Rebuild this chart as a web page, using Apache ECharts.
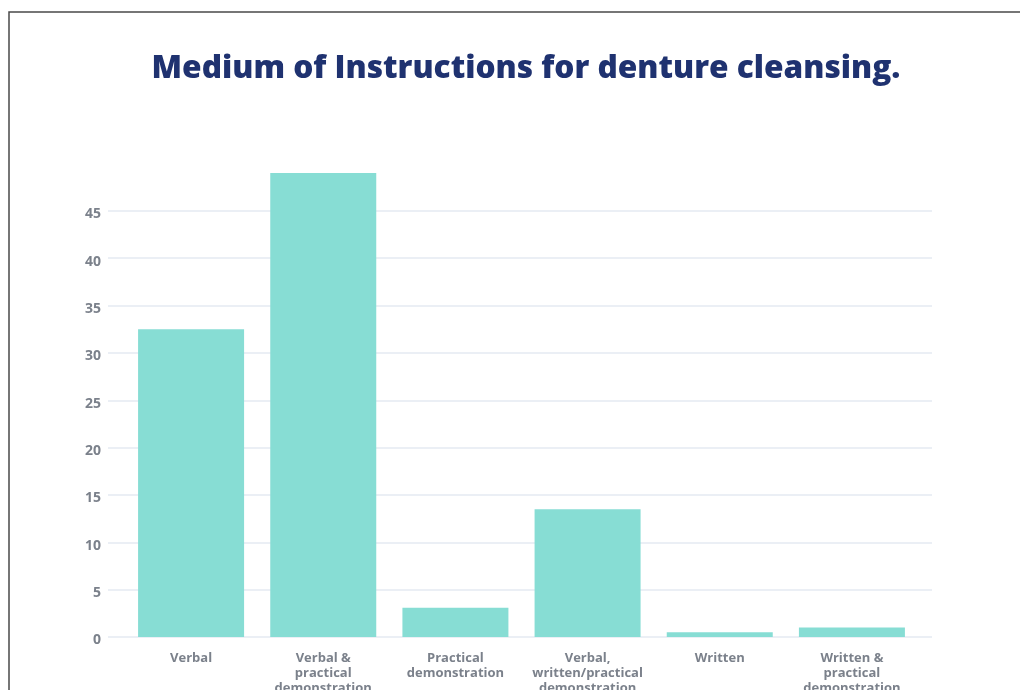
<!DOCTYPE html>
<html>
<head>
<meta charset="utf-8">
<script src="https://cdn.jsdelivr.net/npm/echarts@6/dist/echarts.min.js"></script>
<style>
html,body{margin:0;padding:0;background:#fff;}
#c{width:1020px;height:690px;}
</style>
</head>
<body>
<div id="c"></div>
<script>
const categories = ["Verbal", "Verbal &\npractical\ndemonstration", "Practical\ndemonstration", "Verbal,\nwritten/practical\ndemonstration", "Written", "Written &\npractical\ndemonstration"];
const values = [32.5, 49.0, 3.1, 13.5, 0.5, 1.0];
const yMin = 0, yMax = 49, yInterval = 5;

const chart = echarts.init(document.getElementById('c'), null, {renderer: 'canvas'});
const labelFont = {color: '#7b818b', fontFamily: 'Open Sans', fontWeight: 'bold', fontSize: 13};
chart.setOption({
  backgroundColor: '#ffffff',
  animation: false,
  title: {
    text: 'Medium of Instructions for denture cleansing.',
    left: 521, top: 48, textAlign: 'center',
    textStyle: {color: '#1f3270', fontFamily: 'Open Sans', fontWeight: 800, fontSize: 31.6}
  },
  graphic: [{
    type: 'rect', silent: true,
    shape: {x: 9, y: 12, width: 1200, height: 1000},
    style: {fill: 'none', stroke: '#4a4a4a', lineWidth: 1.5}
  }],
  grid: [
    {left: 108, right: 88, top: 173, bottom: 53, outerBoundsMode: 'none'},
    {left: 125, right: 102, top: 173, bottom: 53, outerBoundsMode: 'none'}
  ],
  xAxis: [
    {type: 'value', gridIndex: 0, show: false, min: 0, max: 1},
    {type: 'category', gridIndex: 1, data: categories,
      axisLine: {show: false}, axisTick: {show: false},
      axisLabel: Object.assign({margin: 14, lineHeight: 15, interval: 0}, labelFont)}
  ],
  yAxis: [
    {type: 'value', gridIndex: 0, min: yMin, max: yMax, interval: yInterval,
      axisLine: {show: false}, axisTick: {show: false},
      axisLabel: {margin: 7, showMaxLabel: false, formatter: '{a|{value}}',
        rich: {a: Object.assign({}, labelFont, {fontSize: 14, padding: [7, 0, 0, 0]})}},
      splitLine: {showMaxLine: false, lineStyle: {color: '#e5eaf2', width: 1.5}}},
    {type: 'value', gridIndex: 1, min: yMin, max: yMax, interval: yInterval, show: false,
      splitLine: {show: false}}
  ],
  series: [{
    type: 'bar', xAxisIndex: 1, yAxisIndex: 1, data: values,
    barWidth: 106,
    itemStyle: {color: '#87ddd4'}
  }]
});
</script>
</body>
</html>
